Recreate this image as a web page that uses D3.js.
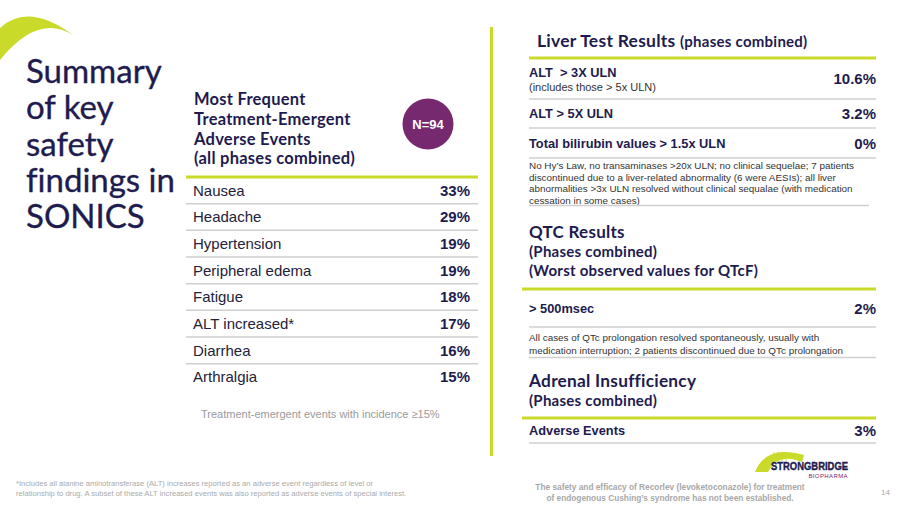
<!DOCTYPE html>
<html>
<head>
<meta charset="utf-8">
<script src="https://cdn.jsdelivr.net/npm/d3@7"></script>
<style>
  body { margin: 0; background: #fff; }
  svg { display: block; }
  text { font-variant-ligatures: none; }
</style>
</head>
<body>
<div id="slide"></div>
<script>
// Safety summary slide

// Data
var titleLines = ["Summary", "of key", "safety", "findings in", "SONICS"];
var aeHeader = ["Most Frequent", "Treatment-Emergent", "Adverse Events", "(all phases combined)"];
var aeLabels = ["Nausea", "Headache", "Hypertension", "Peripheral edema", "Fatigue", "ALT increased*", "Diarrhea", "Arthralgia"];
var aeValues = [33, 29, 19, 19, 18, 17, 16, 15];
var sampleSize = "N=94";

var liverLabels = ["ALT  > 3X ULN", "ALT > 5X ULN", "Total bilirubin values > 1.5x ULN"];
var liverSubs = ["(includes those > 5x ULN)", "", ""];
var liverValues = ["10.6%", "3.2%", "0%"];
var liverNote = [
  "No Hy\u2019s Law, no transaminases >20x ULN; no clinical sequelae; 7 patients",
  "discontinued due to a liver-related abnormality (6 were AESIs); all liver",
  "abnormalities >3x ULN resolved without clinical sequalae (with medication",
  "cessation in some cases)"
];

var qtcHeader = ["QTC Results", "(Phases combined)", "(Worst observed values for QTcF)"];
var qtcLabels = ["> 500msec"];
var qtcValues = ["2%"];
var qtcNote = [
  "All cases of QTc prolongation resolved spontaneously, usually with",
  "medication interruption; 2 patients discontinued due to QTc prolongation"
];

var adrenalHeader = ["Adrenal Insufficiency", "(Phases combined)"];
var adrenalLabels = ["Adverse Events"];
var adrenalValues = ["3%"];

var footLeft = [
  "*Includes all alanine aminotransferase (ALT) increases reported as an adverse event regardless of level or",
  "relationship to drug. A subset of these ALT increased events was also reported as adverse events of special interest."
];
var footCenter = [
  "The safety and efficacy of Recorlev (levoketoconazole) for treatment",
  "of endogenous Cushing\u2019s syndrome has not been established."
];
var pageNum = "14";

// Colours and fonts
var lime = "#c9da2a";
var navy = "#1e1b4f";
var purple = "#76296e";
var rule = "#cfcfcf";
var headFont = "Lato, 'Open Sans', sans-serif";
var bodyFont = "'Liberation Sans', Arial, sans-serif";

var width = 900;
var height = 506;

var svg = d3
  .select("#slide")
  .append("svg")
  .attr("width", width)
  .attr("height", height);

svg.append("rect").attr("width", width).attr("height", height).attr("fill", "#fff");

// corner swoosh
svg.append("path")
  .attr("d", "M0,28 Q28,2 73,35 Q38,13 0,60 Z")
  .attr("fill", lime);

// Big title
svg.append("g")
  .selectAll("text")
  .data(titleLines)
  .enter()
  .append("text")
  .attr("x", 26)
  .attr("y", function(d, i) { return 83 + i * 36.3; })
  .attr("font-family", headFont)
  .attr("font-size", 33)
  .attr("fill", navy)
  .attr("stroke", navy)
  .attr("stroke-width", 0.35)
  .text(function(d) { return d; });

// vertical divider
svg.append("line")
  .attr("x1", 491.5).attr("x2", 491.5)
  .attr("y1", 27).attr("y2", 456)
  .attr("stroke", lime)
  .attr("stroke-width", 3);

// ---------- Left table: adverse events ----------
svg.append("g")
  .selectAll("text")
  .data(aeHeader)
  .enter()
  .append("text")
  .attr("x", 194)
  .attr("y", function(d, i) { return 105 + i * 19.8; })
  .attr("font-family", headFont)
  .attr("font-weight", 700)
  .attr("font-size", 16.5)
  .attr("letter-spacing", 0.25)
  .attr("fill", navy)
  .text(function(d) { return d; });

// N badge
svg.append("circle")
  .attr("cx", 428).attr("cy", 124).attr("r", 25.5)
  .attr("fill", purple);
svg.append("text")
  .attr("x", 428).attr("y", 129)
  .attr("text-anchor", "middle")
  .attr("font-family", bodyFont)
  .attr("font-weight", 700)
  .attr("font-size", 13)
  .attr("fill", "#fff")
  .text(sampleSize);

var aeLeft = 186, aeRight = 478;
var aeY = d3.scaleBand().domain(aeLabels).range([177, 390.3]);

svg.append("line")
  .attr("x1", aeLeft).attr("x2", aeRight)
  .attr("y1", 177).attr("y2", 177)
  .attr("stroke", lime).attr("stroke-width", 3);

var aeRows = svg.append("g").selectAll("g").data(aeLabels).enter().append("g");

aeRows.filter(function(d, i) { return i < aeLabels.length - 1; })
  .append("line")
  .attr("x1", aeLeft).attr("x2", aeRight)
  .attr("y1", function(d) { return aeY(d) + aeY.bandwidth(); })
  .attr("y2", function(d) { return aeY(d) + aeY.bandwidth(); })
  .attr("stroke", rule).attr("stroke-width", 1.5);

aeRows.append("text")
  .attr("x", 193)
  .attr("y", function(d) { return aeY(d) + aeY.bandwidth() / 2 + 5.5; })
  .attr("font-family", bodyFont)
  .attr("font-size", 15)
  .attr("fill", "#23223a")
  .text(function(d) { return d; });

aeRows.append("text")
  .attr("x", 470)
  .attr("y", function(d) { return aeY(d) + aeY.bandwidth() / 2 + 5.5; })
  .attr("text-anchor", "end")
  .attr("font-family", bodyFont)
  .attr("font-weight", 700)
  .attr("font-size", 15)
  .attr("fill", navy)
  .text(function(d, i) { return aeValues[i] + "%"; });

svg.append("text")
  .attr("x", 201).attr("y", 418)
  .attr("font-family", bodyFont)
  .attr("font-size", 11)
  .attr("fill", "#9a9a9a")
  .text("Treatment-emergent events with incidence \u226515%");

// ---------- Right panel ----------
var rLeft = 529, rRight = 876;

function greenRule(y, x1) {
  svg.append("line")
    .attr("x1", x1).attr("x2", rRight)
    .attr("y1", y).attr("y2", y)
    .attr("stroke", lime).attr("stroke-width", 3);
}

function grayRule(y, x2) {
  svg.append("line")
    .attr("x1", rLeft).attr("x2", x2 || rRight)
    .attr("y1", y).attr("y2", y)
    .attr("stroke", rule).attr("stroke-width", 1.5);
}

function noteBlock(lines, y0, step) {
  svg.append("g")
    .selectAll("text")
    .data(lines)
    .enter()
    .append("text")
    .attr("x", rLeft)
    .attr("y", function(d, i) { return y0 + i * step; })
    .attr("font-family", bodyFont)
    .attr("font-size", 9.9)
    .attr("fill", "#333")
    .text(function(d) { return d; });
}

// rows: edges[i]..edges[i+1]
function resultRows(labels, subs, values, edges) {
  var top = d3.scaleOrdinal().domain(labels).range(edges.slice(0, -1));
  var bot = d3.scaleOrdinal().domain(labels).range(edges.slice(1));
  var rows = svg.append("g").selectAll("g").data(labels).enter().append("g");

  rows.append("text")
    .attr("x", rLeft)
    .attr("y", function(d, i) {
      return subs[i] ? top(d) + 19 : (top(d) + bot(d)) / 2 + 4.5;
    })
    .attr("font-family", bodyFont)
    .attr("font-weight", 700)
    .attr("font-size", 12.8)
    .attr("fill", navy)
    .attr("xml:space", "preserve")
    .text(function(d) { return d; });

  rows.filter(function(d, i) { return subs[i]; })
    .append("text")
    .attr("x", rLeft)
    .attr("y", function(d) { return top(d) + 33; })
    .attr("font-family", bodyFont)
    .attr("font-size", 11)
    .attr("fill", "#333")
    .text(function(d) { return subs[labels.indexOf(d)]; });

  rows.append("text")
    .attr("x", rRight)
    .attr("y", function(d) { return (top(d) + bot(d)) / 2 + 5.5; })
    .attr("text-anchor", "end")
    .attr("font-family", bodyFont)
    .attr("font-weight", 700)
    .attr("font-size", 15)
    .attr("fill", navy)
    .text(function(d, i) { return values[i]; });

  rows.append("line")
    .attr("x1", rLeft).attr("x2", rRight)
    .attr("y1", function(d) { return bot(d); })
    .attr("y2", function(d) { return bot(d); })
    .attr("stroke", rule).attr("stroke-width", 1.5);
}

function headerBlock(lines, y0, sizes, step) {
  svg.append("g")
    .selectAll("text")
    .data(lines)
    .enter()
    .append("text")
    .attr("x", rLeft)
    .attr("y", function(d, i) { return y0 + i * step; })
    .attr("font-family", headFont)
    .attr("font-weight", 700)
    .attr("font-size", function(d, i) { return sizes[i]; })
    .attr("letter-spacing", 0.25)
    .attr("fill", navy)
    .text(function(d) { return d; });
}

// Liver
var liverTitle = svg.append("text")
  .attr("x", 537).attr("y", 47)
  .attr("font-family", headFont)
  .attr("font-weight", 700)
  .attr("fill", navy)
  .attr("letter-spacing", 0.25);
liverTitle.append("tspan").attr("font-size", 17.5).text("Liver Test Results ");
liverTitle.append("tspan").attr("font-size", 15).text("(phases combined)");

greenRule(58, rLeft);
resultRows(liverLabels, liverSubs, liverValues, [58, 99, 128, 158]);
noteBlock(liverNote, 169, 11.6);
grayRule(205.5, 869);

// QTC
headerBlock(qtcHeader, 238, [17, 15, 15], 19);
greenRule(289, 522);
resultRows(qtcLabels, [""], qtcValues, [289, 327]);
noteBlock(qtcNote, 341, 12.5);
grayRule(357.5);

// Adrenal
headerBlock(adrenalHeader, 387, [17.3, 15], 18.5);
greenRule(418, 522);
resultRows(adrenalLabels, [""], adrenalValues, [418, 443]);

// ---------- Logo ----------
var logo = svg.append("g");
logo.append("path")
  .attr("d", "M755,472 Q766,444 804,455 L802,462 Q778,452 768,472 Z")
  .attr("fill", lime);
logo.selectAll("line.cable")
  .data([774, 778, 782, 786])
  .enter()
  .append("line")
  .attr("class", "cable")
  .attr("x1", function(d) { return d; }).attr("x2", function(d) { return d; })
  .attr("y1", 452).attr("y2", 461)
  .attr("stroke", lime).attr("stroke-width", 0.9);
logo.append("text")
  .attr("x", 771).attr("y", 470)
  .attr("font-family", bodyFont)
  .attr("font-weight", 700)
  .attr("font-size", 11.5)
  .attr("textLength", 77)
  .attr("lengthAdjust", "spacingAndGlyphs")
  .attr("fill", navy)
  .attr("stroke", navy)
  .attr("stroke-width", 0.4)
  .text("STRONGBRIDGE");
logo.append("text")
  .attr("x", 848).attr("y", 478)
  .attr("text-anchor", "end")
  .attr("font-family", bodyFont)
  .attr("font-size", 6)
  .attr("letter-spacing", 0.4)
  .attr("fill", purple)
  .text("BIOPHARMA");

// ---------- Footers ----------
svg.append("g")
  .selectAll("text")
  .data(footLeft)
  .enter()
  .append("text")
  .attr("x", 16)
  .attr("y", function(d, i) { return 486 + i * 10; })
  .attr("font-family", bodyFont)
  .attr("font-size", 7.6)
  .attr("fill", "#aaa")
  .text(function(d) { return d; });

svg.append("g")
  .selectAll("text")
  .data(footCenter)
  .enter()
  .append("text")
  .attr("x", 670)
  .attr("y", function(d, i) { return 490 + i * 11; })
  .attr("text-anchor", "middle")
  .attr("font-family", bodyFont)
  .attr("font-weight", 700)
  .attr("font-size", 8.3)
  .attr("fill", "#a8a8a8")
  .text(function(d) { return d; });

svg.append("text")
  .attr("x", 890).attr("y", 495)
  .attr("text-anchor", "end")
  .attr("font-family", bodyFont)
  .attr("font-size", 8)
  .attr("fill", "#aaa")
  .text(pageNum);
</script>
</body>
</html>
